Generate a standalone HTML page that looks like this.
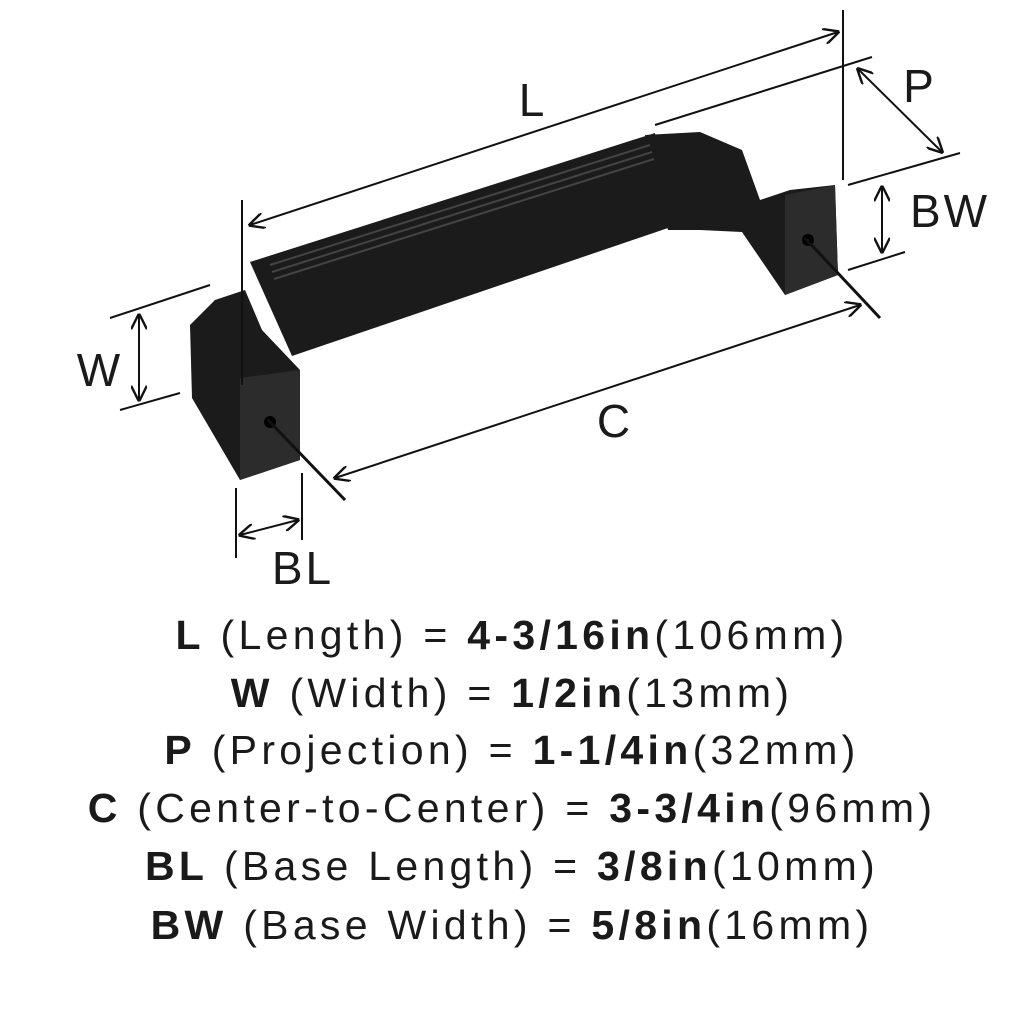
<!DOCTYPE html>
<html><head><meta charset="utf-8"><style>
html,body{margin:0;padding:0;background:#fff;}
.wrap{position:relative;width:1024px;height:1024px;overflow:hidden;}
svg{position:absolute;left:0;top:0;}
.txt{position:absolute;left:0;width:1024px;text-align:center;font-family:"Liberation Sans",sans-serif;font-size:41px;color:#1a1a1a;letter-spacing:4.3px;line-height:50px;}
.txt b{font-weight:bold;}
</style></head><body><div class="wrap">
<svg width="1024" height="1024" viewBox="0 0 1024 1024">
<defs>
<marker id="a" viewBox="0 0 10 10" refX="9" refY="5" markerWidth="8" markerHeight="8" orient="auto-start-reverse"><path d="M0,0 L10,5 L0,10" fill="none" stroke="#111" stroke-width="1.5"/></marker>
</defs>
<g fill="#1b1b1b">
<polygon points="250,262 655,133 668,228 292,356"/>
<polygon points="190,325 215,300 245,290 262,330 300,370 300,460 240,480 192,398"/>
<polygon points="645,135 700,132 742,150 760,200 790,190 835,185 838,275 785,295 742,232 700,230 668,230"/>
</g>
<g fill="#2c2c2c">
<polygon points="240,378 300,370 300,460 240,480"/>
<polygon points="785,195 835,185 838,275 785,295"/>
</g>
<g stroke="#444" stroke-width="2" fill="none">
<line x1="270" y1="265" x2="650" y2="145"/>
<line x1="272" y1="272" x2="652" y2="152"/>
<line x1="274" y1="279" x2="654" y2="159"/>
</g>
<circle cx="270" cy="422" r="6" fill="#000"/>
<circle cx="808" cy="240" r="6" fill="#000"/>
<g stroke="#111" stroke-width="2" fill="none">
<line x1="242" y1="200" x2="242" y2="385"/>
<line x1="843" y1="10" x2="843" y2="180"/>
<line x1="250" y1="225" x2="838" y2="32" marker-start="url(#a)" marker-end="url(#a)"/>
<line x1="655" y1="125" x2="872" y2="57"/>
<line x1="848" y1="185" x2="960" y2="153"/>
<line x1="858" y1="69" x2="942" y2="152" marker-start="url(#a)" marker-end="url(#a)"/>
<line x1="848" y1="270" x2="905" y2="252"/>
<line x1="882" y1="187" x2="882" y2="252" marker-start="url(#a)" marker-end="url(#a)"/>
<line x1="110" y1="318" x2="210" y2="285"/>
<line x1="120" y1="410" x2="180" y2="393"/>
<line x1="139" y1="315" x2="139" y2="400" marker-start="url(#a)" marker-end="url(#a)"/>
<line x1="268" y1="420" x2="345" y2="500" stroke-width="3"/>
<line x1="805" y1="238" x2="880" y2="318" stroke-width="3"/>
<line x1="335" y1="478" x2="860" y2="305" marker-start="url(#a)" marker-end="url(#a)"/>
<line x1="236" y1="488" x2="236" y2="558"/>
<line x1="302" y1="473" x2="302" y2="540"/>
<line x1="240" y1="535" x2="298" y2="520" marker-start="url(#a)" marker-end="url(#a)"/>
</g>
<g font-family="Liberation Sans,sans-serif" font-size="46" fill="#1a1a1a" text-anchor="middle" letter-spacing="3">
<text x="533" y="116">L</text>
<text x="920" y="102">P</text>
<text x="950" y="227">BW</text>
<text x="100" y="386">W</text>
<text x="615" y="437">C</text>
<text x="303" y="584">BL</text>
</g>
</svg>
<div class="txt" style="top:610px"><b>L</b> (Length) = <b>4-3/16in</b>(106mm)</div>
<div class="txt" style="top:668px"><b>W</b> (Width) = <b>1/2in</b>(13mm)</div>
<div class="txt" style="top:725px"><b>P</b> (Projection) = <b>1-1/4in</b>(32mm)</div>
<div class="txt" style="top:783px"><b>C</b> (Center-to-Center) = <b>3-3/4in</b>(96mm)</div>
<div class="txt" style="top:841px"><b>BL</b> (Base Length) = <b>3/8in</b>(10mm)</div>
<div class="txt" style="top:900px"><b>BW</b> (Base Width) = <b>5/8in</b>(16mm)</div>
</div></body></html>
